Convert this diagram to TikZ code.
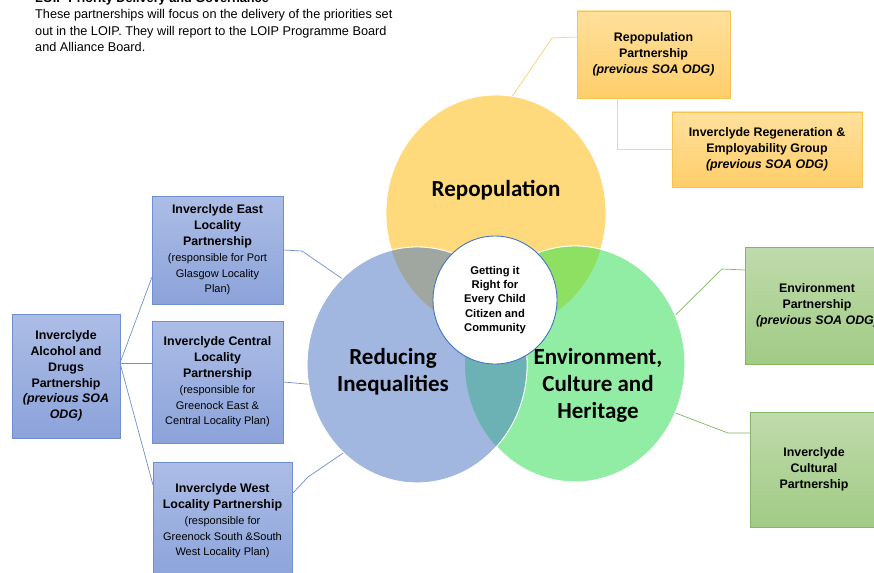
\documentclass[tikz,border=0pt]{standalone}
\usepackage{fontspec}
\setmainfont{Liberation Sans}
\newfontfamily\calibri{Carlito}
\usetikzlibrary{shapes.geometric}

\definecolor{repfill}{RGB}{255,218,124}
\definecolor{redfill}{RGB}{161,183,224}
\definecolor{envfill}{RGB}{146,237,164}
\definecolor{repred}{RGB}{160,167,160}
\definecolor{repenv}{RGB}{142,224,98}
\definecolor{redenv}{RGB}{108,178,180}
\definecolor{hubline}{RGB}{68,114,196}
\definecolor{orangetop}{RGB}{255,224,156}
\definecolor{orangebot}{RGB}{255,206,106}
\definecolor{orangeline}{RGB}{246,196,80}
\definecolor{bluetop}{RGB}{172,189,230}
\definecolor{bluebot}{RGB}{140,163,218}
\definecolor{blueline}{RGB}{112,143,206}
\definecolor{greentop}{RGB}{191,219,171}
\definecolor{greenbot}{RGB}{161,203,133}
\definecolor{greenline}{RGB}{132,182,102}

\newcommand{\prev}[1]{{\itshape #1}}
\newcommand{\resp}[1]{{\mdseries\fontsize{11}{13.5}\selectfont #1}}

\tikzset{
    venn/.style={ellipse, minimum width=220pt, minimum height=236pt, inner sep=0pt, draw=white, line width=0.8pt},
    vennlabel/.style={align=center, font=\calibri\bfseries\fontsize{23}{27}\selectfont},
    hub/.style={ellipse, minimum width=124pt, minimum height=128pt, inner sep=0pt, fill=white, draw=hubline, line width=0.9pt, align=center, font=\bfseries\fontsize{11.2}{14.2}\selectfont},
    box/.style={rectangle, line width=0.8pt, align=center, inner sep=2pt, font=\bfseries\fontsize{12.4}{15.8}\selectfont},
    orangebox/.style={box, draw=orangeline, top color=orangetop, bottom color=orangebot},
    bluebox/.style={box, draw=blueline, top color=bluetop, bottom color=bluebot},
    greenbox/.style={box, draw=greenline, top color=greentop, bottom color=greenbot},
    link/.style={line width=0.7pt},
}

\begin{document}
\begin{tikzpicture}[x=1pt, y=-1pt]
    \useasboundingbox (0,0) rectangle (874,572);
    \clip (0,0) rectangle (874,572);
    \fill[white] (0,0) rectangle (874,572);

    % heading
    \node[anchor=base west, inner sep=0pt, font=\bfseries\fontsize{12.7}{16}\selectfont] (title) at (35,3) {LOIP Priority Delivery and Governance};
    \node[anchor=north west, align=left, inner sep=0pt, font=\fontsize{12.7}{16.4}\selectfont] (intro) at (35,9.5) {These partnerships will focus on the delivery of the priorities set\\out in the LOIP. They will report to the LOIP Programme Board\\and Alliance Board.};

    % three priorities
    \node[venn, fill=repfill] (repop) at (496,213) {};
    \node[venn, fill=envfill] (env) at (575,364) {};
    \begin{scope}
        \clip (496,213) ellipse [x radius=110, y radius=118];
        \fill[repenv] (575,364) ellipse [x radius=110, y radius=118];
    \end{scope}
    \draw[white, line width=0.8pt] (env.center) ellipse [x radius=110, y radius=118];
    \node[venn, fill=redfill] (red) at (417,365) {};
    \begin{scope}
        \clip (417,365) ellipse [x radius=110, y radius=118];
        \fill[repred] (496,213) ellipse [x radius=110, y radius=118];
        \fill[redenv] (575,364) ellipse [x radius=110, y radius=118];
    \end{scope}
    \draw[white, line width=0.8pt] (red.center) ellipse [x radius=110, y radius=118];

    \node[vennlabel] (replabel) at (496,190) {Repopulation};
    \node[vennlabel] (redlabel) at (393,372) {Reducing\\Inequalities};
    \node[vennlabel] (envlabel) at (598,385) {Environment,\\Culture and\\Heritage};
    \node[hub] (gifec) at (495,300) {Getting it\\Right for\\Every Child\\Citizen and\\Community};

    % partnerships
    \node[orangebox, minimum width=153pt, minimum height=87pt] (repbox) at (653.5,54.5) {Repopulation\\Partnership\\\prev{(previous SOA ODG)}};
    \node[orangebox, minimum width=190pt, minimum height=75pt] (regbox) at (767,149.5) {Inverclyde Regeneration \&\\Employability Group\\\prev{(previous SOA ODG)}};
    \node[bluebox, minimum width=131pt, minimum height=108pt] (eastbox) at (217.5,250) {Inverclyde East\\Locality\\Partnership\\\resp{(responsible for Port}\\\resp{Glasgow Locality}\\\resp{Plan)}};
    \node[bluebox, minimum width=131pt, minimum height=122pt] (centralbox) at (217.5,382) {Inverclyde Central\\Locality\\Partnership\\\resp{(responsible for}\\\resp{Greenock East \&}\\\resp{Central Locality Plan)}};
    \node[bluebox, minimum width=139pt, minimum height=118pt] (westbox) at (222.5,521) {Inverclyde West\\Locality Partnership\\\resp{(responsible for}\\\resp{Greenock South \&South}\\\resp{West Locality Plan)}};
    \node[bluebox, minimum width=108pt, minimum height=124pt] (adpbox) at (66,376) {Inverclyde\\Alcohol and\\Drugs\\Partnership\\\prev{(previous SOA}\\\prev{ODG)}};
    \node[greenbox, minimum width=144pt, minimum height=117pt] (envbox) at (817,305.5) {Environment\\Partnership\\\prev{(previous SOA ODG)}};
    \node[greenbox, minimum width=128pt, minimum height=115pt] (culbox) at (814,469.5) {Inverclyde\\Cultural\\Partnership};

    % connectors
    \coordinate (repin) at (577,37);
    \coordinate (repdrop) at (617,98);
    \coordinate (adpout) at (120,363);
    \coordinate (eastin) at (152,277);
    \coordinate (centralin) at (152,363);
    \coordinate (westin) at (153,485);
    \coordinate (westout) at (292,494);
    \coordinate (envin) at (745,270);
    \coordinate (culin) at (750,433);

    \draw[link, orangeline!80] (repop.82) -- (552,38) -- (repin);
    \draw[link, orangeline!70] (repdrop) |- (regbox.west);
    \draw[link, blueline] (adpout) -- (eastin);
    \draw[link, blueline] (adpout) -- (centralin);
    \draw[link, blueline] (adpout) -- (westin);
    \draw[link, blueline] (eastbox.east) -- (302,251) -- (red.131);
    \draw[link, blueline] (centralbox.east) -- (red.190);
    \draw[link, blueline] (westout) -- (308,477) -- (red.230);
    \draw[link, greenline] (env.26) -- (722,269) -- (envin);
    \draw[link, greenline] (env.334) -- (728,433) -- (culin);
\end{tikzpicture}
\end{document}
